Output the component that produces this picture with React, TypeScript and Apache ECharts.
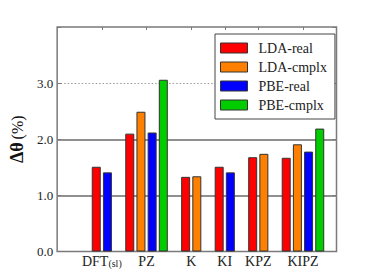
import React, { useEffect, useRef } from "react";
import * as echarts from "echarts";

const categories = ["DFT(sl)", "PZ", "K", "KI", "KPZ", "KIPZ"];
const seriesNames = ["LDA-real", "LDA-cmplx", "PBE-real", "PBE-cmplx"];
const ldaReal = [1.51, 2.1, 1.33, 1.51, 1.68, 1.67];
const ldaCmplx = [null, 2.49, 1.34, null, 1.74, 1.91];
const pbeReal = [1.41, 2.12, null, 1.41, null, 1.78];
const pbeCmplx = [null, 3.06, null, null, null, 2.19];
const yTickLabels = ["0.0", "1.0", "2.0", "3.0"];
const colors = ["#ff0000", "#ff8000", "#0000ff", "#00cc00"];

const SERIF = "Times New Roman, Liberation Serif, DejaVu Serif, serif";

export default function App() {
  const ref = useRef<HTMLDivElement>(null);
  useEffect(() => {
    if (!ref.current) return;
    const chart = echarts.init(ref.current, undefined, { renderer: "svg" });
    const values = [ldaReal, ldaCmplx, pbeReal, pbeCmplx];

    // build slot layout: 3 leading blank slots, one blank slot between groups, 1 trailing
    const lead = 3;
    let slot = lead;
    const slotData: (number | null)[][] = values.map(() => []);
    const centers: { pos: number; label: string }[] = [];
    const assign: { s: number; slot: number; v: number }[] = [];
    categories.forEach((cat, gi) => {
      const start = slot;
      values.forEach((arr, si) => {
        const v = arr[gi];
        if (v != null) {
          assign.push({ s: si, slot, v });
          slot++;
        }
      });
      centers.push({ pos: (start + slot) / 2, label: cat });
      slot++; // gap / trailing
    });
    const totalSlots = slot;
    values.forEach((_, si) => {
      slotData[si] = new Array(totalSlots).fill(null);
    });
    assign.forEach((a) => {
      slotData[a.s][a.slot] = a.v;
    });
    const slotCats = Array.from({ length: totalSlots }, (_, i) => "s" + i);
    const labelCats = Array.from({ length: totalSlots + 1 }, (_, i) => {
      const c = centers.find((x) => x.pos === i);
      return c ? c.label : "";
    });
    const isLabel = (i: number) => labelCats[i] !== "";

    chart.setOption({
      animation: false,
      textStyle: { fontFamily: SERIF },
      grid: {
        left: 46,
        right: 37.5,
        top: 27,
        bottom: 28.5,
        show: true,
        borderColor: "#7a7a7a",
        borderWidth: 1.5,
        backgroundColor: "transparent",
      },
      legend: {
        orient: "vertical",
        left: 215,
        top: 34,
        width: 115,
        backgroundColor: "#fff",
        borderColor: "#444",
        borderWidth: 1,
        borderRadius: 0,
        padding: [6, 8, 6, 5],
        itemWidth: 27,
        itemHeight: 10,
        itemGap: 3,
        icon: "rect",
        itemStyle: { borderColor: "#333", borderWidth: 1 },
        textStyle: {
          fontFamily: SERIF,
          fontSize: 14,
          color: "#222",
          lineHeight: 16,
          padding: [0, 0, 0, 6],
        },
        data: seriesNames,
      },
      xAxis: [
        {
          type: "category",
          data: slotCats,
          gridIndex: 0,
          position: "bottom",
          axisLine: { show: false },
          axisTick: { show: false },
          axisLabel: { show: false },
          splitLine: { show: false },
        },
        {
          type: "category",
          data: labelCats,
          boundaryGap: false,
          gridIndex: 0,
          position: "bottom",
          axisLine: { show: false },
          axisTick: { show: false },
          axisLabel: {
            interval: (i: number) => isLabel(i),
            margin: 3,
            fontFamily: SERIF,
            fontSize: 14,
            color: "#222",
            formatter: (v: string) =>
              v === "DFT(sl)" ? "DFT{s|(sl)}" : v,
            rich: {
              s: { fontFamily: SERIF, fontSize: 10, color: "#222", padding: [4, 0, 0, 0] },
            },
          },
          splitLine: { show: false },
        },
        {
          type: "category",
          data: labelCats,
          boundaryGap: false,
          gridIndex: 0,
          position: "top",
          axisLine: { show: false },
          axisTick: {
            show: true,
            inside: true,
            length: 3,
            interval: (i: number) => isLabel(i),
            lineStyle: { color: "#7a7a7a", width: 1 },
          },
          axisLabel: { show: false },
          splitLine: { show: false },
        },
      ],
      yAxis: [
        {
          type: "value",
          min: 0,
          max: 4,
          interval: 1,
          position: "left",
          name: "{a|Δθ} {b|(%)}",
          nameLocation: "middle",
          nameGap: 22,
          nameRotate: 90,
          nameTextStyle: {
            fontFamily: SERIF,
            rich: {
              a: { fontFamily: SERIF, fontSize: 18, fontWeight: "bold", color: "#111" },
              b: { fontFamily: SERIF, fontSize: 16, color: "#111" },
            },
          },
          axisLine: { show: false },
          axisTick: {
            show: true,
            inside: true,
            length: 4,
            lineStyle: { color: "#7a7a7a", width: 1 },
          },
          axisLabel: {
            margin: 4,
            fontFamily: SERIF,
            fontSize: 13,
            color: "#222",
            formatter: (v: number) => yTickLabels[v] ?? "",
          },
          splitLine: {
            show: true,
            lineStyle: {
              type: [1.5, 2],
              width: 1,
              color: ["transparent", "transparent", "transparent", "#999", "transparent"],
            },
          },
        },
        {
          type: "value",
          min: 0,
          max: 4,
          interval: 1,
          position: "right",
          axisLine: { show: false },
          axisTick: {
            show: true,
            inside: true,
            length: 4,
            lineStyle: { color: "#7a7a7a", width: 1 },
          },
          axisLabel: { show: false },
          splitLine: {
            show: true,
            lineStyle: {
              type: "solid",
              width: 2,
              color: ["transparent", "#909090", "#909090", "transparent", "transparent"],
            },
          },
        },
      ],
      series: seriesNames.map((name, si) => ({
        name,
        type: "bar",
        xAxisIndex: 0,
        yAxisIndex: 0,
        data: slotData[si],
        barWidth: 9,
        barGap: "-100%",
        itemStyle: { color: colors[si], borderColor: "#333", borderWidth: 1 },
      })),
    });
    return () => chart.dispose();
  }, []);
  return <div ref={ref} style={{ width: 374, height: 280, margin: -8 }} />;
}
